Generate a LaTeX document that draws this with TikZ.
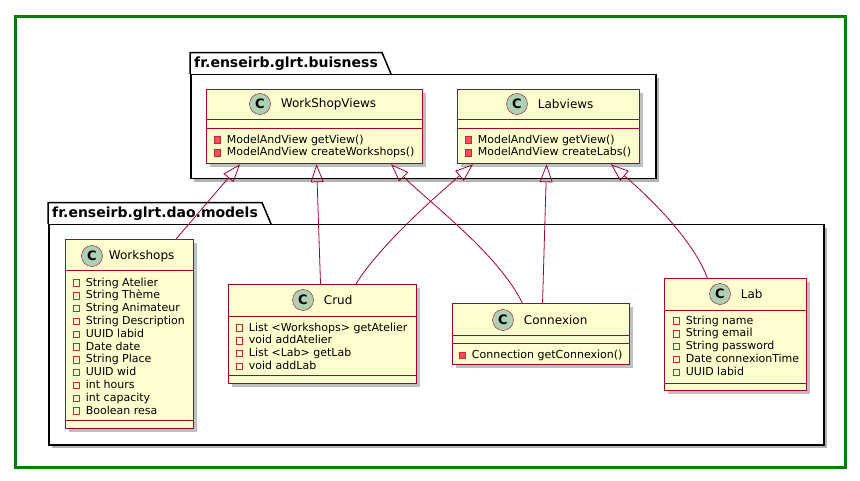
\documentclass[tikz,border=0pt]{standalone}
\usepackage{fontspec}
\setmainfont{DejaVu Sans}
\usetikzlibrary{positioning, shapes, arrows.meta, calc, shadows}

\definecolor{umlborder}{HTML}{A80036}
\definecolor{umlfill}{HTML}{FEFECE}
\definecolor{umlicon}{HTML}{ADD1B2}
\definecolor{vismark}{HTML}{C82930}
\definecolor{vismethod}{HTML}{F24D5C}
\definecolor{framegreen}{HTML}{008000}

% visibility markers in front of members
\newcommand{\fieldmark}{{\setlength{\fboxsep}{0pt}\setlength{\fboxrule}{0.9pt}\raisebox{0.3pt}{\fcolorbox{vismark}{umlfill}{\rule{0pt}{5.5pt}\rule{5.5pt}{0pt}}}}\hspace{6pt}}
\newcommand{\methodmark}{{\setlength{\fboxsep}{0pt}\setlength{\fboxrule}{0.9pt}\raisebox{0.3pt}{\fcolorbox{vismark}{vismethod}{\rule{0pt}{5.5pt}\rule{5.5pt}{0pt}}}}\hspace{6pt}}

\begin{document}
\begin{tikzpicture}[x=1pt, y=-1pt]
      % Define styles for nodes
      \tikzset{
        classbox/.style={draw=umlborder, fill=umlfill, line width=1.2pt, inner sep=0pt, anchor=north west,
          drop shadow={shadow xshift=3pt, shadow yshift=-3pt, fill=black, opacity=0.25}},
        classicon/.style={circle, draw=umlborder, fill=umlicon, minimum size=21pt, inner sep=0pt,
          font=\fontsize{13}{13}\selectfont\bfseries},
        classname/.style={inner sep=0pt, anchor=west, font=\fontsize{12}{14}\selectfont},
        members/.style={inner sep=0pt, anchor=north west, align=left, font=\fontsize{11}{12.8}\selectfont},
        classline/.style={draw=umlborder, line width=1pt},
        pkgbody/.style={draw, fill=white, line width=1.5pt, inner sep=0pt, anchor=north west,
          drop shadow={shadow xshift=3pt, shadow yshift=-3pt, fill=black, opacity=0.3}},
        pkglabel/.style={inner xsep=4pt, inner ysep=0pt, minimum height=21pt, anchor=south west,
          font=\fontsize{14}{16}\selectfont\bfseries},
        inherit/.style={draw=umlborder, line width=0.8pt, {Triangle[open, length=18pt, width=13pt]}-}
      }
      \useasboundingbox (0,0) rectangle (860,481);

      % Outer frame
      \draw[framegreen, line width=3pt] (15,17) rectangle (845,467);

      % Packages
      \node[pkgbody, minimum width=465pt, minimum height=104pt] (pkgBuisness) at (190,74) {};
      \node[pkglabel] (pkgBuisnessTab) at (pkgBuisness.north west) {fr.enseirb.glrt.buisness};
      \draw[line width=1.5pt] (pkgBuisnessTab.south west) |- (pkgBuisnessTab.north east) -- ($(pkgBuisnessTab.south east)+(9,0)$);

      \node[pkgbody, minimum width=775pt, minimum height=220pt] (pkgModels) at (48,224) {};
      \node[pkglabel] (pkgModelsTab) at (pkgModels.north west) {fr.enseirb.glrt.dao.models};
      \draw[line width=1.5pt] (pkgModelsTab.south west) |- (pkgModelsTab.north east) -- ($(pkgModelsTab.south east)+(9,0)$);

      % WorkShopViews
      \node[classbox, minimum width=216pt, minimum height=74pt] (wsViews) at (206,89) {};
      \node[classicon] (wsViewsIcon) at (260,104) {C};
      \node[classname, right=10pt of wsViewsIcon] (wsViewsName) {WorkShopViews};
      \draw[classline] (wsViews.west |- 0,120) -- (wsViews.east |- 0,120);
      \draw[classline] (wsViews.west |- 0,129) -- (wsViews.east |- 0,129);
      \node[members] (wsViewsOps) at (213.4,134.6) {\methodmark ModelAndView getView()\\\methodmark ModelAndView createWorkshops()};

      % Labviews
      \node[classbox, minimum width=182pt, minimum height=74pt] (labViews) at (457,89) {};
      \node[classicon] (labViewsIcon) at (517,104) {C};
      \node[classname, right=10pt of labViewsIcon] (labViewsName) {Labviews};
      \draw[classline] (labViews.west |- 0,120) -- (labViews.east |- 0,120);
      \draw[classline] (labViews.west |- 0,129) -- (labViews.east |- 0,129);
      \node[members] (labViewsOps) at (464.4,134.6) {\methodmark ModelAndView getView()\\\methodmark ModelAndView createLabs()};

      % Workshops
      \node[classbox, minimum width=128pt, minimum height=189pt] (workshops) at (65,239) {};
      \node[classicon] (workshopsIcon) at (92,256) {C};
      \node[classname, right=6pt of workshopsIcon] (workshopsName) {Workshops};
      \draw[classline] (workshops.west |- 0,271) -- (workshops.east |- 0,271);
      \draw[classline] (workshops.west |- 0,420) -- (workshops.east |- 0,420);
      \node[members] (workshopsAttr) at (72.4,277.6) {\fieldmark String Atelier\\\fieldmark String Thème\\
        \fieldmark String Animateur\\\fieldmark String Description\\\fieldmark UUID labid\\
        \fieldmark Date date\\\fieldmark String Place\\\fieldmark UUID wid\\\fieldmark int hours\\
        \fieldmark int capacity\\\fieldmark Boolean resa};

      % Crud
      \node[classbox, minimum width=188pt, minimum height=99pt] (crud) at (228,284) {};
      \node[classicon] (crudIcon) at (303,300) {C};
      \node[classname, right=10pt of crudIcon] (crudName) {Crud};
      \draw[classline] (crud.west |- 0,317) -- (crud.east |- 0,317);
      \draw[classline] (crud.west |- 0,375) -- (crud.east |- 0,375);
      \node[members] (crudAttr) at (235.4,322.6) {\fieldmark List <Workshops> getAtelier\\\fieldmark void addAtelier\\
        \fieldmark List <Lab> getLab\\\fieldmark void addLab};

      % Connexion
      \node[classbox, minimum width=177pt, minimum height=61pt] (connexion) at (452,303) {};
      \node[classicon] (connexionIcon) at (503,320) {C};
      \node[classname, right=10pt of connexionIcon] (connexionName) {Connexion};
      \draw[classline] (connexion.west |- 0,335) -- (connexion.east |- 0,335);
      \draw[classline] (connexion.west |- 0,343) -- (connexion.east |- 0,343);
      \node[members] (connexionOps) at (458.4,350) {\methodmark Connection getConnexion()};

      % Lab
      \node[classbox, minimum width=142pt, minimum height=112pt] (lab) at (664,278) {};
      \node[classicon] (labIcon) at (720,294) {C};
      \node[classname, right=10pt of labIcon] (labName) {Lab};
      \draw[classline] (lab.west |- 0,311) -- (lab.east |- 0,311);
      \draw[classline] (lab.west |- 0,383) -- (lab.east |- 0,383);
      \node[members] (labAttr) at (672.4,315.6) {\fieldmark String name\\\fieldmark String email\\
        \fieldmark String password\\\fieldmark Date connexionTime\\\fieldmark UUID labid};

      % Inheritance links
      \draw[inherit] ($(wsViews.south west)!0.157!(wsViews.south east)$) -- ($(workshops.north west)!0.86!(workshops.north east)$);
      \draw[inherit] ($(wsViews.south west)!0.509!(wsViews.south east)$) -- ($(crud.north west)!0.489!(crud.north east)$);
      \draw[inherit] ($(wsViews.south west)!0.852!(wsViews.south east)$) .. controls +(40,40) and +(-25,-50) .. ($(connexion.north west)!0.395!(connexion.north east)$);
      \draw[inherit] ($(labViews.south west)!0.088!(labViews.south east)$) .. controls +(-35,30) and +(25,-40) .. ($(crud.north west)!0.676!(crud.north east)$);
      \draw[inherit] ($(labViews.south west)!0.489!(labViews.south east)$) -- ($(connexion.north west)!0.508!(connexion.north east)$);
      \draw[inherit] ($(labViews.south west)!0.84!(labViews.south east)$) .. controls +(35,30) and +(-15,-40) .. ($(lab.north west)!0.303!(lab.north east)$);
\end{tikzpicture}
\end{document}
